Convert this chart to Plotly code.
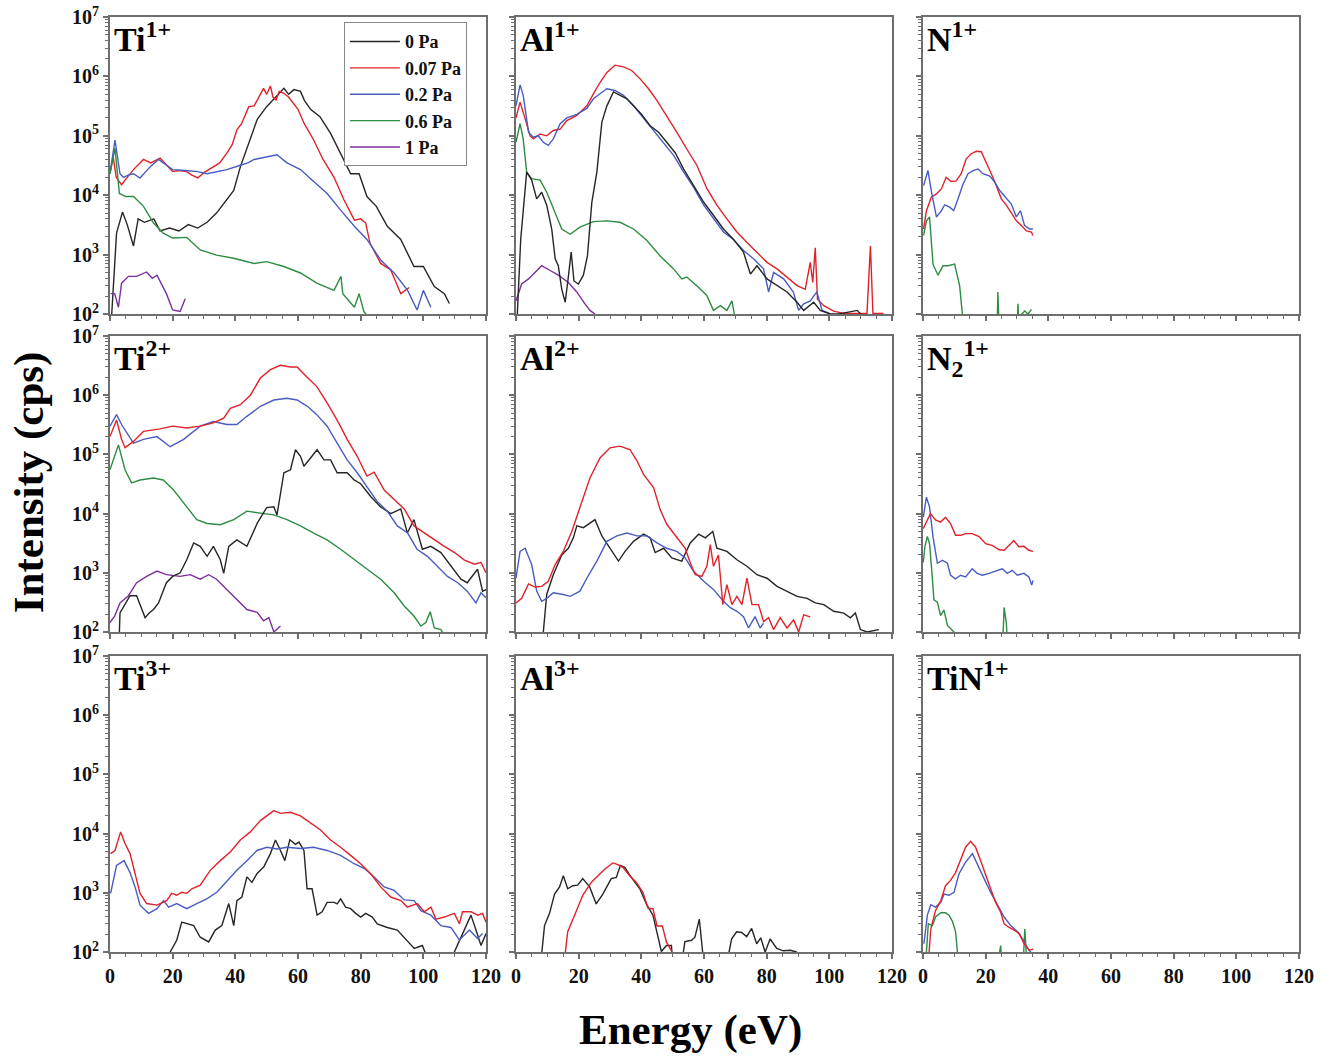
import plotly.graph_objects as go
from plotly.subplots import make_subplots

PRESSURES = ["0 Pa", "0.07 Pa", "0.2 Pa", "0.6 Pa", "1 Pa"]
COLORS = ["#262626", "#e0222a", "#4a5cc0", "#2e8c43", "#7b2f9e"]

X_TICKS = [0, 20, 40, 60, 80, 100, 120]
Y_TICKS = [1e2, 1e3, 1e4, 1e5, 1e6, 1e7]
Y_TICK_TEXT = ["10<sup>2</sup>", "10<sup>3</sup>", "10<sup>4</sup>", "10<sup>5</sup>", "10<sup>6</sup>", "10<sup>7</sup>"]
PANEL_LABELS = ["Ti<sup>1+</sup>", "Al<sup>1+</sup>", "N<sup>1+</sup>",
                "Ti<sup>2+</sup>", "Al<sup>2+</sup>", "N<sub>2</sub><sup>1+</sup>",
                "Ti<sup>3+</sup>", "Al<sup>3+</sup>", "TiN<sup>1+</sup>"]

# ---------------- Ti1+ ----------------
TI1_0_E = [0, 2.1, 4, 5.5, 7.5, 9, 11, 14, 16, 19, 22, 25, 28, 31, 34, 37, 39.5, 41.6, 44, 47, 50, 53, 55.5, 57, 58.7, 60.8, 62, 64, 67, 70.4, 73.6, 76.8, 79.5, 82, 85, 88.5, 92.8, 97, 100, 103.5, 106.7, 108.3]
TI1_0_I = [32, 2.3e3, 5.2e3, 3.2e3, 1.4e3, 4.0e3, 3.5e3, 4.0e3, 2.5e3, 2.8e3, 2.5e3, 3.2e3, 2.8e3, 3.5e3, 5.0e3, 7.9e3, 1.2e4, 3.0e4, 6.6e4, 1.9e5, 3.1e5, 4.6e5, 6.3e5, 5.0e5, 6.0e5, 5.6e5, 4.0e5, 2.8e5, 2.1e5, 1.1e5, 5.1e4, 2.3e4, 2.3e4, 9.5e3, 6.5e3, 3.0e3, 1.8e3, 630, 630, 290, 220, 150]
TI1_007_E = [0, 1, 2, 3.7, 5.5, 7.5, 10.7, 13, 16, 18, 20, 22, 24.5, 26, 28, 30, 33, 35, 37.3, 39, 40.5, 42, 44.3, 46, 47, 48, 49, 50, 51.2, 52, 53, 54, 55.5, 57, 58.7, 60, 62, 65, 68, 71.5, 74.7, 78, 80, 81.6, 83, 86.4, 89.6, 92.8, 95.5]
TI1_007_I = [2.3e4, 4.5e4, 2.0e4, 1.5e4, 2.0e4, 2.7e4, 4.0e4, 3.5e4, 4.2e4, 3.2e4, 2.5e4, 2.6e4, 2.5e4, 2.2e4, 1.95e4, 2.4e4, 3.0e4, 3.5e4, 5.1e4, 7.1e4, 1.26e5, 1.6e5, 3.1e5, 3.2e5, 4.0e5, 5.0e5, 6.3e5, 5.0e5, 6.9e5, 4.5e5, 4.0e5, 5.6e5, 5.2e5, 4.5e5, 3.5e5, 2.8e5, 1.6e5, 8.5e4, 4.0e4, 2.0e4, 8.3e3, 3.8e3, 4.0e3, 3.4e3, 1.55e3, 710, 550, 220, 280]
TI1_02_E = [0, 1.6, 3.2, 4.3, 6, 7.5, 9.6, 12.8, 15.5, 18, 20, 24, 28, 31, 34, 37.3, 41.6, 44, 46, 48, 50, 53.3, 56.5, 60.8, 65, 69.3, 73.6, 78, 82, 86.4, 90.7, 95, 98, 100, 102.4]
TI1_02_I = [2.3e4, 8.5e4, 2.3e4, 2.0e4, 2.2e4, 2.3e4, 1.95e4, 3.0e4, 4.0e4, 3.2e4, 2.7e4, 2.6e4, 2.5e4, 2.3e4, 2.5e4, 2.7e4, 3.2e4, 3.5e4, 4.0e4, 4.2e4, 4.5e4, 4.8e4, 3.5e4, 2.7e4, 1.7e4, 1.07e4, 5.6e3, 3.0e3, 1.8e3, 810, 490, 250, 117, 250, 130]
TI1_06_E = [0, 1.6, 3, 5, 7.5, 10.7, 13.9, 17, 20, 24.5, 28.8, 34, 39.5, 46, 50, 55.5, 60.8, 66, 71.5, 73.7, 74.3, 78, 79.5, 81, 83]
TI1_06_I = [2.3e4, 6.2e4, 1.07e4, 9.5e3, 9.5e3, 6.5e3, 3.4e3, 2.3e3, 1.9e3, 1.95e3, 1.2e3, 980, 870, 710, 760, 630, 490, 330, 250, 430, 220, 130, 220, 110, 80]
TI1_1_E = [0.2, 1.5, 2.7, 3.7, 5.9, 8.5, 11.7, 13.5, 15, 18, 20, 22.4, 24]
TI1_1_I = [220, 220, 130, 330, 430, 430, 510, 400, 450, 220, 117, 110, 180]

# ---------------- Al1+ ----------------
AL1_0_E = [0, 1.5, 3.4, 5, 6.6, 8.2, 9.8, 11.4, 12.5, 13.5, 14.6, 15.7, 16.7, 17.6, 18.5, 19.9, 21.5, 22.8, 24.2, 25.8, 27.4, 29, 31.1, 33.2, 35.4, 37.5, 40.1, 42.8, 45.5, 48.1, 50.8, 53.5, 56.7, 59.9, 63, 66.2, 69.4, 72.6, 74.8, 76.9, 80.1, 83.3, 86.5, 89.7, 91.8, 95, 97.1, 100.3, 103, 108.9, 110]
AL1_0_I = [32, 1.8e3, 2.45e4, 1.8e4, 8.7e3, 1.12e4, 6.8e3, 2.7e3, 850, 650, 260, 158, 420, 1.1e3, 360, 320, 450, 950, 7.6e3, 2.45e4, 1.7e5, 3.2e5, 5.5e5, 4.8e5, 4.2e5, 3.2e5, 2.3e5, 1.48e5, 1.15e5, 7.8e4, 5.2e4, 2.75e4, 1.45e4, 7.6e3, 4.6e3, 2.7e3, 1.8e3, 1.1e3, 470, 650, 390, 300, 235, 158, 115, 158, 115, 100, 100, 115, 100]
AL1_007_E = [0, 1.3, 2.9, 4.5, 5.5, 7.7, 9.8, 11.9, 14.1, 16.2, 19.4, 22.6, 24.7, 26.8, 29, 31.6, 34.3, 36.9, 39.6, 42.3, 44.9, 48.1, 51.3, 54.5, 57.7, 60.9, 64.1, 67.3, 70.5, 73.7, 76.9, 80.1, 83.3, 86.5, 89.7, 92.3, 93.9, 94.7, 95.5, 96.2, 98.2, 101.4, 104.6, 107.8, 112, 113.1, 113.9, 117.3]
AL1_007_I = [2.0e5, 3.7e5, 1.95e5, 1.0e5, 8.9e4, 1.07e5, 1.0e5, 1.23e5, 1.3e5, 1.8e5, 2.2e5, 3.2e5, 5.1e5, 7.9e5, 1.17e6, 1.55e6, 1.45e6, 1.26e6, 9.1e5, 6.2e5, 4.0e5, 2.2e5, 1.15e5, 6.0e4, 3.2e4, 1.3e4, 6.8e3, 4.0e3, 2.4e3, 1.6e3, 1.1e3, 740, 575, 420, 300, 260, 740, 340, 1.3e3, 178, 138, 112, 102, 102, 102, 1.4e3, 102, 102]
AL1_02_E = [0, 1.3, 2.3, 4, 5.5, 7.1, 8.7, 10.3, 11.9, 14.1, 16.2, 19.4, 22.6, 24.7, 26.8, 29, 31.6, 34.3, 37.5, 40.7, 43.9, 47.1, 50.3, 53.5, 56.7, 59.9, 63, 66.2, 69.4, 72.6, 75.8, 79, 80.6, 82.2, 85.4, 88.5, 90.2, 91.8, 93.9, 96, 97.7, 100.3]
AL1_02_I = [3.2e5, 7.2e5, 4.8e5, 1.15e5, 9.5e4, 1.0e5, 7.8e4, 6.9e4, 8.9e4, 1.6e5, 2.0e5, 2.3e5, 2.9e5, 4.2e5, 5.1e5, 6.2e5, 5.8e5, 4.8e5, 3.2e5, 2.0e5, 1.23e5, 7.8e4, 4.7e4, 2.45e4, 1.35e4, 6.8e3, 4.0e3, 2.4e3, 1.8e3, 1.17e3, 850, 575, 235, 500, 390, 235, 115, 148, 166, 235, 115, 100]
AL1_06_E = [0, 1.3, 2.3, 3.4, 5, 7.7, 9.8, 11.9, 14.6, 17.3, 20.4, 24.7, 29, 33.2, 37.5, 41.7, 46, 50.3, 52.9, 54.5, 57.7, 60.9, 63, 65.2, 67.3, 68.9, 70]
AL1_06_I = [7.8e4, 1.6e5, 8.9e4, 2.45e4, 1.9e4, 1.8e4, 1.12e4, 5.9e3, 2.7e3, 2.2e3, 2.9e3, 3.6e3, 3.7e3, 3.5e3, 2.7e3, 1.74e3, 950, 575, 390, 420, 300, 205, 115, 138, 115, 166, 80]
AL1_1_E = [0, 1.8, 4, 6.1, 8.2, 10.9, 13.5, 16.7, 19.4, 22, 23.6, 25.2]
AL1_1_I = [166, 320, 390, 500, 650, 540, 450, 340, 235, 148, 115, 100]

# ---------------- N1+ ----------------
N1_007_E = [0.2, 1.1, 2.7, 4.3, 5.9, 7.4, 9, 10.6, 12.2, 13.8, 15.4, 17, 18.6, 20.2, 21.8, 23.4, 25, 26.6, 28.2, 29.8, 31.4, 33, 34.6, 35.1]
N1_007_I = [2.7e3, 5.5e3, 9.3e3, 1.05e4, 1.29e4, 2.0e4, 1.7e4, 1.74e4, 2.3e4, 4.1e4, 5.0e4, 5.5e4, 5.4e4, 3.6e4, 2.3e4, 1.45e4, 8.7e3, 6.8e3, 5.1e3, 3.7e3, 3.1e3, 2.5e3, 2.4e3, 2.1e3]
N1_02_E = [0.2, 1.6, 2.7, 4.3, 5.9, 6.9, 8.5, 9.8, 11.2, 12.8, 14.4, 16, 17.6, 19.1, 21.3, 22.9, 24.5, 26.6, 28.2, 29.8, 31.1, 32.4, 34, 35.1]
N1_02_I = [1.45e4, 2.6e4, 1.15e4, 4.3e3, 5.5e3, 6.9e3, 6.3e3, 5.5e3, 8.7e3, 1.55e4, 2.3e4, 2.6e4, 2.75e4, 2.3e4, 2.1e4, 1.66e4, 1.2e4, 8.7e3, 7.1e3, 4.3e3, 5.5e3, 3.1e3, 2.7e3, 2.7e3]
N1_06_E = [0.2, 1.1, 2.1, 3.2, 4.8, 6.4, 8, 10.1, 11.7, 13.3, 23.6, 23.9, 24.4, 30, 30.3, 30.8, 31.5, 32.5, 33.5, 34.6]
N1_06_I = [2.1e3, 3.7e3, 4.3e3, 690, 450, 650, 650, 690, 300, 40, 40, 235, 40, 40, 148, 40, 100, 112, 100, 120]

# ---------------- Ti2+ ----------------
TI2_0_E = [2.7, 3.2, 6.4, 8.5, 11.2, 12.5, 13.9, 15.5, 18, 20, 22.4, 24.5, 26.7, 28.8, 31, 33, 35.2, 36.3, 37.9, 40.5, 43.7, 47, 50, 52.3, 53.3, 55.5, 57.6, 59.2, 60.8, 61.9, 64, 66.1, 68.3, 70.4, 72.5, 75.7, 77.9, 80, 83.2, 86.4, 89.6, 92.8, 94.9, 97, 99.7, 102.4, 105.6, 108.8, 112, 114, 117.3, 118.9, 120]
TI2_0_I = [32, 210, 410, 410, 175, 210, 240, 310, 680, 870, 1.0e3, 1.66e3, 3.2e3, 2.8e3, 1.9e3, 2.8e3, 1.66e3, 980, 2.8e3, 3.6e3, 2.8e3, 6.9e3, 1.26e4, 1.3e4, 9.5e3, 4.9e4, 5.5e4, 1.2e5, 9.3e4, 6.3e4, 8.7e4, 1.2e5, 8.1e4, 8.1e4, 4.9e4, 4.9e4, 3.7e4, 3.2e4, 1.95e4, 1.3e4, 1.0e4, 1.2e4, 4.7e3, 7.9e3, 2.5e3, 2.8e3, 2.2e3, 1.3e3, 780, 680, 1.15e3, 490, 520]
TI2_007_E = [0, 2.1, 3.7, 4.8, 7.5, 10.7, 16, 20, 24.5, 28.8, 33, 36.3, 38.4, 41.6, 44.8, 48, 51.2, 54.4, 57.6, 59.7, 63, 66, 69.3, 72.5, 75.7, 78.9, 82, 84.3, 87.5, 90.7, 93.9, 97, 100.3, 103.5, 106.7, 110, 113, 116.3, 118.4, 120]
TI2_007_I = [2.0e5, 3.8e5, 1.8e5, 1.3e5, 1.66e5, 2.45e5, 2.7e5, 3.0e5, 2.8e5, 3.0e5, 3.4e5, 4.1e5, 6.0e5, 6.9e5, 1.0e6, 1.95e6, 2.7e6, 3.2e6, 3.0e6, 3.0e6, 2.0e6, 1.4e6, 7.4e5, 3.8e5, 1.8e5, 9.3e4, 4.3e4, 5.0e4, 2.5e4, 1.7e4, 1.2e4, 6.2e3, 4.7e3, 3.6e3, 2.8e3, 2.2e3, 1.66e3, 1.4e3, 1.5e3, 1.0e3]
TI2_02_E = [0, 2.1, 3.7, 7.5, 10.7, 15, 19.2, 23.5, 28.8, 33, 37.3, 40.5, 43.7, 48, 52.3, 56.5, 59.7, 63, 66, 69.3, 72.5, 75.7, 78.9, 82, 85.3, 88.5, 91.7, 95, 98, 101.3, 104.5, 107.7, 111, 114, 116.8, 118.4, 120]
TI2_02_I = [3.0e5, 4.7e5, 3.2e5, 1.55e5, 1.8e5, 2.0e5, 1.35e5, 1.8e5, 3.0e5, 3.6e5, 3.2e5, 3.2e5, 4.4e5, 6.5e5, 8.3e5, 8.9e5, 8.3e5, 6.5e5, 4.7e5, 3.0e5, 1.55e5, 8.1e4, 4.9e4, 2.9e4, 1.6e4, 1.1e4, 6.2e3, 4.7e3, 2.5e3, 1.9e3, 1.3e3, 870, 680, 490, 310, 460, 380]
TI2_06_E = [0, 2.7, 4.8, 6.9, 9.6, 13.9, 17, 20.3, 24.5, 27.7, 31, 35.2, 39.5, 43.7, 48, 52.3, 56.5, 60.8, 65, 69.3, 73.6, 77.9, 82.1, 86.4, 90.7, 93.9, 97, 99.2, 100.8, 102.2, 103.5, 105.6, 107.2]
TI2_06_I = [5.5e4, 1.45e5, 5.5e4, 3.3e4, 3.7e4, 4.0e4, 3.7e4, 2.5e4, 1.3e4, 7.9e3, 6.8e3, 6.5e3, 7.9e3, 1.1e4, 1.02e4, 9.5e3, 7.9e3, 6.2e3, 4.7e3, 3.6e3, 2.5e3, 1.66e3, 1.15e3, 780, 460, 275, 186, 126, 145, 220, 117, 110, 80]
TI2_1_E = [0, 1.5, 3.2, 5.9, 8.5, 11.7, 15, 18, 22.4, 25.6, 28.8, 31.5, 34, 37.3, 40.5, 43.7, 47, 49, 50.7, 52.3, 54.4]
TI2_1_I = [145, 186, 310, 410, 680, 870, 1.07e3, 930, 870, 930, 780, 930, 780, 520, 355, 240, 215, 155, 175, 100, 126]

# ---------------- Al2+ ----------------
AL2_0_E = [8.2, 9.8, 11.9, 14.6, 16.7, 18.3, 19.4, 21.5, 23.6, 25.2, 27.4, 30, 32.7, 34.8, 37.5, 40.7, 42.8, 44.4, 47.1, 49.7, 52.9, 55.6, 58.3, 60.4, 62.8, 64.1, 67.3, 70.5, 73.7, 76.9, 80.1, 83.3, 86.5, 89.7, 92.9, 95.5, 98.2, 101.4, 104.6, 106.7, 108.3, 109.9, 112, 115.8]
AL2_0_I = [50, 430, 930, 2.0e3, 2.6e3, 3.9e3, 6.2e3, 5.8e3, 6.9e3, 7.9e3, 4.2e3, 2.6e3, 1.58e3, 2.3e3, 3.4e3, 4.5e3, 3.9e3, 2.2e3, 2.6e3, 1.78e3, 1.58e3, 3.2e3, 4.5e3, 3.9e3, 5.0e3, 2.6e3, 2.3e3, 1.66e3, 1.29e3, 930, 810, 590, 490, 400, 370, 310, 290, 224, 209, 174, 209, 110, 100, 110]
AL2_007_E = [0, 1.8, 4, 6.1, 8.2, 10.3, 12.5, 15.1, 17.8, 21, 23.6, 26.8, 30, 33.2, 36.4, 38.6, 40.7, 43.9, 46, 48.1, 51.3, 54, 55.6, 57.2, 59.3, 60.9, 62, 63, 64.6, 66, 67.3, 68.9, 70.5, 72.1, 73.7, 75.3, 77.4, 79, 80.6, 82.2, 84.3, 86.5, 88.6, 90.2, 91.8, 93.9]
AL2_007_I = [310, 370, 650, 575, 590, 720, 1.38e3, 2.3e3, 5.0e3, 1.6e4, 4.0e4, 8.7e4, 1.29e5, 1.38e5, 1.2e5, 7.8e4, 4.6e4, 2.75e4, 1.17e4, 6.6e3, 3.9e3, 2.6e3, 1.48e3, 930, 870, 1.29e3, 3.0e3, 1.29e3, 2.0e3, 290, 630, 290, 400, 290, 810, 290, 290, 150, 175, 110, 175, 117, 160, 100, 195, 180]
AL2_02_E = [0, 1.3, 2.9, 5, 6.6, 8.2, 9.8, 11.9, 15.1, 17.3, 20.4, 22.6, 25.8, 29, 32.2, 35.4, 38.6, 41.8, 45, 48.1, 51.3, 54, 56.6, 59.9, 63, 66.2, 68.4, 70.5, 72.6, 74.2, 76.3, 77.9, 79]
AL2_02_I = [810, 2.3e3, 2.6e3, 1.38e3, 490, 330, 370, 460, 430, 400, 490, 810, 1.58e3, 3.4e3, 4.2e3, 4.7e3, 4.2e3, 4.2e3, 3.2e3, 2.6e3, 2.3e3, 1.78e3, 1.07e3, 720, 525, 330, 257, 224, 182, 117, 182, 117, 141]

# ---------------- N2 1+ ----------------
N2_007_E = [0.1, 0.9, 2.4, 4, 5.6, 7.2, 8.8, 10.4, 12, 13.6, 15.7, 17.9, 20, 22.1, 24.3, 25.9, 27.4, 29, 30.6, 32.2, 33.8, 35.1]
N2_007_I = [5.6e3, 6.9e3, 1.0e4, 7.8e3, 7.2e3, 8.7e3, 6.8e3, 4.3e3, 4.3e3, 4.6e3, 4.6e3, 4.1e3, 3.1e3, 2.9e3, 2.45e3, 2.4e3, 2.9e3, 3.5e3, 2.75e3, 2.8e3, 2.4e3, 2.3e3]
N2_02_E = [0.1, 1.1, 2.1, 3.2, 4.6, 6.2, 7.8, 8.8, 10.4, 12, 13.6, 15.7, 17.3, 18.9, 21.1, 23.2, 25.3, 26.9, 28.5, 30.1, 32.2, 33.8, 34.7, 35.1]
N2_02_I = [8.7e3, 1.9e4, 1.29e4, 4.1e3, 1.45e3, 1.62e3, 1.45e3, 910, 790, 910, 850, 1.17e3, 980, 910, 980, 1.07e3, 1.17e3, 980, 1.1e3, 910, 980, 850, 620, 740]
N2_06_E = [0.1, 0.6, 1.4, 2.1, 2.8, 3.5, 4.6, 5.6, 6.7, 7.8, 8.8, 9.9, 10.5, 25.3, 25.9, 26.6, 27.2]
N2_06_I = [1.5e3, 2.75e3, 4.1e3, 3.1e3, 1.1e3, 350, 320, 190, 235, 129, 115, 100, 40, 40, 260, 141, 40]

# ---------------- Ti3+ ----------------
TI3_0_E = [19.2, 21.3, 22.9, 26.7, 28.8, 31.5, 33.6, 35.7, 37.9, 39.5, 40.5, 42.1, 43.7, 45.3, 46.9, 49.1, 51.2, 52.8, 54.4, 55.8, 57.4, 59.2, 60.3, 61.9, 62.9, 64.5, 66.1, 67.7, 69.3, 71.5, 72.5, 73.6, 75.2, 76.8, 78.4, 80, 81.6, 83.7, 85.3, 88.5, 91.7, 93.9, 97.1, 99.7, 100.5, 101.5, 109, 109.9, 112.5, 115.2, 116.8, 118.4, 120]
TI3_0_I = [100, 158, 320, 280, 178, 148, 235, 280, 660, 280, 740, 850, 1.86e3, 1.5e3, 2.1e3, 2.75e3, 4.6e3, 7.8e3, 5.2e3, 3.5e3, 7.9e3, 6.6e3, 7.2e3, 5.2e3, 1.17e3, 1.17e3, 420, 480, 690, 690, 650, 790, 575, 540, 450, 390, 450, 390, 300, 260, 235, 178, 115, 129, 100, 50, 50, 100, 205, 420, 235, 129, 205]
TI3_007_E = [0.2, 1.6, 3.4, 4.8, 6.4, 8, 9.6, 11.7, 15, 18.1, 19.7, 21.3, 22.9, 24.5, 26.1, 28.8, 32, 35.2, 38.4, 41.6, 44.8, 48, 50.1, 52.3, 54.4, 57.6, 60.8, 64, 67.2, 70.4, 73.6, 76.8, 80, 83.2, 86.4, 89.6, 92.8, 94.9, 98.1, 100.3, 102.4, 104, 106.7, 109.9, 111.5, 112.5, 115.2, 117.3, 118.9, 120]
TI3_007_I = [4.6e3, 5.2e3, 1.07e4, 6.8e3, 4.6e3, 2.1e3, 980, 660, 620, 740, 980, 910, 1.02e3, 980, 1.17e3, 1.35e3, 2.4e3, 3.5e3, 4.9e3, 7.8e3, 1.07e4, 1.66e4, 2.0e4, 2.45e4, 2.2e4, 2.3e4, 2.0e4, 1.5e4, 1.15e4, 7.8e3, 5.9e3, 4.3e3, 3.1e3, 2.1e3, 1.26e3, 850, 740, 575, 660, 480, 575, 360, 390, 450, 300, 480, 480, 420, 450, 320]
TI3_02_E = [0.2, 2.1, 4.5, 6.4, 8, 9.6, 12.3, 15, 17.1, 18.7, 21.3, 24.5, 27.7, 30.9, 34.1, 37.3, 40.5, 43.7, 46.9, 50.1, 53.3, 56.5, 60.8, 65, 69.3, 73.6, 77.9, 81.1, 84.3, 87.5, 90.7, 93.9, 97.1, 99.2, 102.4, 105.6, 108.8, 111.5, 114.7, 117.3, 118.9]
TI3_02_I = [980, 2.9e3, 3.5e3, 2.2e3, 1.26e3, 620, 450, 540, 740, 575, 660, 540, 660, 790, 1.02e3, 1.6e3, 2.4e3, 3.5e3, 5.2e3, 5.9e3, 5.5e3, 5.9e3, 5.6e3, 5.9e3, 5.2e3, 4.3e3, 3.1e3, 2.6e3, 1.86e3, 1.26e3, 1.1e3, 760, 740, 500, 420, 280, 260, 160, 235, 170, 205]

# ---------------- Al3+ ----------------
AL3_0_E = [7.5, 9.1, 10.7, 12.3, 13.9, 15.1, 16.5, 18.1, 19.7, 21.3, 23.5, 25.6, 27.7, 30.4, 32, 33.3, 34.7, 36.8, 39.5, 41.6, 43.7, 45, 46.4, 48, 49.6, 50.3, 52.3, 53.9, 56, 57.1, 58.5, 59.5, 60.2, 66.5, 68.8, 70.4, 72, 73.6, 75.2, 76.8, 78.1, 79.5, 81.1, 83.2, 85.3, 87.5, 89.6]
AL3_0_I = [40, 280, 450, 950, 1.26e3, 1.95e3, 1.17e3, 1.32e3, 1.35e3, 1.74e3, 1.26e3, 650, 950, 1.74e3, 1.82e3, 2.9e3, 2.7e3, 1.82e3, 1.17e3, 650, 420, 220, 102, 129, 129, 40, 40, 150, 158, 178, 360, 107, 40, 40, 166, 220, 214, 182, 250, 138, 174, 100, 166, 115, 105, 107, 100]
AL3_007_E = [14.9, 16.5, 18.7, 21.3, 24, 26.1, 28.3, 30.9, 32.5, 34.1, 36.3, 38.4, 40.5, 42.1, 43.7, 45, 46.7, 48, 49.6, 50.5]
AL3_007_I = [40, 220, 420, 910, 1.5e3, 1.95e3, 2.5e3, 3.2e3, 3.0e3, 2.7e3, 1.95e3, 1.5e3, 1.02e3, 550, 540, 275, 275, 148, 105, 40]

# ---------------- TiN1+ ----------------
TIN_007_E = [1.4, 2.5, 4, 5.7, 7.2, 8.8, 10.4, 12, 13.6, 15.2, 16.8, 18.4, 20, 21.6, 23.2, 24.8, 25.9, 27.5, 29.1, 30.7, 32.3, 33.9, 35.2]
TIN_007_I = [40, 245, 500, 740, 1.32e3, 1.62e3, 2.2e3, 3.7e3, 5.9e3, 7.4e3, 5.9e3, 3.5e3, 1.95e3, 1.17e3, 690, 470, 300, 260, 235, 205, 138, 107, 112]
TIN_02_E = [0.3, 1.4, 2.5, 4, 5.7, 6.7, 8.3, 9.9, 11.5, 13.6, 15.8, 17.4, 19.5, 21.6, 23.8, 25.9, 28, 30.2, 31.8, 33.4, 34.4]
TIN_02_I = [138, 420, 630, 575, 690, 950, 910, 1.02e3, 2.1e3, 3.3e3, 4.6e3, 3.1e3, 1.74e3, 1.02e3, 620, 390, 280, 220, 166, 115, 100]
TIN_06_E = [0.6, 1.7, 3, 4, 5.7, 7.2, 8.3, 9.4, 10.4, 11.7, 23.2, 24.8, 25.3, 31.8, 32.5, 33.4]
TIN_06_I = [40, 300, 280, 390, 460, 460, 420, 330, 220, 40, 40, 129, 40, 40, 245, 40]

# panel (row, col) -> list of (pressure index, energies, intensities)
PANELS = {
    (1, 1): [(0, TI1_0_E, TI1_0_I), (1, TI1_007_E, TI1_007_I), (2, TI1_02_E, TI1_02_I), (3, TI1_06_E, TI1_06_I), (4, TI1_1_E, TI1_1_I)],
    (1, 2): [(4, AL1_1_E, AL1_1_I), (3, AL1_06_E, AL1_06_I), (1, AL1_007_E, AL1_007_I), (2, AL1_02_E, AL1_02_I), (0, AL1_0_E, AL1_0_I)],
    (1, 3): [(3, N1_06_E, N1_06_I), (1, N1_007_E, N1_007_I), (2, N1_02_E, N1_02_I)],
    (2, 1): [(4, TI2_1_E, TI2_1_I), (3, TI2_06_E, TI2_06_I), (0, TI2_0_E, TI2_0_I), (2, TI2_02_E, TI2_02_I), (1, TI2_007_E, TI2_007_I)],
    (2, 2): [(0, AL2_0_E, AL2_0_I), (2, AL2_02_E, AL2_02_I), (1, AL2_007_E, AL2_007_I)],
    (2, 3): [(3, N2_06_E, N2_06_I), (2, N2_02_E, N2_02_I), (1, N2_007_E, N2_007_I)],
    (3, 1): [(0, TI3_0_E, TI3_0_I), (2, TI3_02_E, TI3_02_I), (1, TI3_007_E, TI3_007_I)],
    (3, 2): [(0, AL3_0_E, AL3_0_I), (1, AL3_007_E, AL3_007_I)],
    (3, 3): [(3, TIN_06_E, TIN_06_I), (2, TIN_02_E, TIN_02_I), (1, TIN_007_E, TIN_007_I)],
}

COL_DOMAINS = [[0.0825, 0.3646], [0.3871, 0.6692], [0.6924, 0.9745]]
ROW_DOMAINS = [[0.7035, 0.9839], [0.4032, 0.6827], [0.1010, 0.3805]]

FONT = "Liberation Serif"
AXIS_COLOR = "#6e6e6e"

fig = make_subplots(rows=3, cols=3)

for (r, c), series in PANELS.items():
    for p, e, inten in series:
        fig.add_trace(go.Scatter(
            x=e, y=inten, mode="lines",
            line=dict(color=COLORS[p], width=1.4),
            name=PRESSURES[p],
            legendgroup=PRESSURES[p],
            showlegend=(r == 1 and c == 1),
            legendrank=p,
        ), row=r, col=c)

minor_y = [m * 10 ** k for k in range(2, 7) for m in range(2, 10)]

for r in range(1, 4):
    for c in range(1, 4):
        fig.update_xaxes(
            row=r, col=c, domain=COL_DOMAINS[c - 1], automargin=False,
            range=[0, 120], tickmode="array", tickvals=X_TICKS,
            ticks="outside", ticklen=5, tickwidth=1.5, tickcolor=AXIS_COLOR,
            minor=dict(dtick=5, tick0=0, ticks="outside", ticklen=3, tickwidth=1.2, tickcolor=AXIS_COLOR, showgrid=False),
            showticklabels=(r == 3),
            tickfont=dict(family=FONT, size=20, color="#111", weight="bold"),
            showline=True, linecolor=AXIS_COLOR, linewidth=1.8, mirror=True,
            showgrid=False, zeroline=False,
        )
        fig.update_yaxes(
            row=r, col=c, domain=ROW_DOMAINS[r - 1], automargin=False,
            type="log", range=[2, 7], tickmode="array",
            tickvals=Y_TICKS, ticktext=Y_TICK_TEXT,
            ticks="outside", ticklen=5, tickwidth=1.5, tickcolor=AXIS_COLOR,
            minor=dict(tickmode="array", tickvals=minor_y, ticks="outside", ticklen=3, tickwidth=1.1, tickcolor=AXIS_COLOR, showgrid=False),
            showticklabels=(c == 1),
            tickfont=dict(family=FONT, size=20, color="#111", weight="bold"),
            showline=True, linecolor=AXIS_COLOR, linewidth=1.8, mirror=True,
            showgrid=False, zeroline=False,
        )

annotations = []
idx = 0
for r in range(1, 4):
    for c in range(1, 4):
        n = (r - 1) * 3 + c
        suffix = "" if n == 1 else str(n)
        annotations.append(dict(
            text="<b>" + PANEL_LABELS[idx] + "</b>",
            xref="x" + suffix + " domain", yref="y" + suffix + " domain",
            x=0.005, y=1.01, xanchor="left", yanchor="top", showarrow=False,
            font=dict(family=FONT, size=34, color="#000"),
        ))
        idx += 1

annotations.append(dict(
    text="<b>Intensity (cps)</b>", xref="paper", yref="paper",
    x=0.022, y=0.545, xanchor="center", yanchor="middle", textangle=-90,
    showarrow=False, font=dict(family=FONT, size=43, color="#000"),
))
annotations.append(dict(
    text="<b>Energy (eV)</b>", xref="paper", yref="paper",
    x=0.518, y=0.027, xanchor="center", yanchor="middle",
    showarrow=False, font=dict(family=FONT, size=43, color="#000"),
))

fig.update_layout(
    width=1333, height=1059,
    margin=dict(l=0, r=0, t=0, b=0, autoexpand=False),
    paper_bgcolor="white", plot_bgcolor="white",
    annotations=annotations,
    showlegend=True,
    legend=dict(
        x=0.258, y=0.979, xanchor="left", yanchor="top",
        bgcolor="white", bordercolor="#888", borderwidth=1,
        font=dict(family=FONT, size=18, color="#111", weight="bold"),
        tracegroupgap=0, traceorder="normal", itemwidth=50,
    ),
)

fig.write_html("out.html")
